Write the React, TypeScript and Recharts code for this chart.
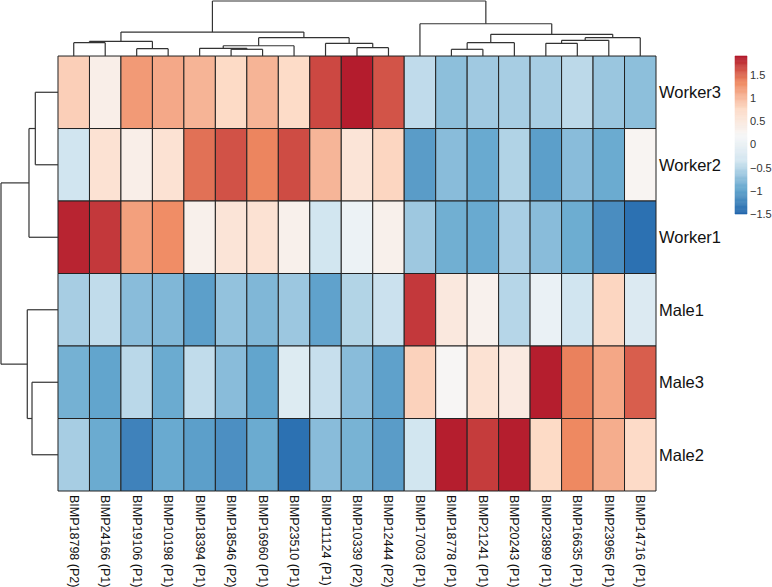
import React from "react";
import { ComposedChart, XAxis, YAxis, ReferenceArea, ReferenceLine } from "recharts";

// column order as in the clustered heatmap
const COLUMNS = [
  "BIMP18798 (P2)", "BIMP24166 (P1)", "BIMP19106 (P1)", "BIMP10198 (P1)",
  "BIMP18394 (P1)", "BIMP18546 (P2)", "BIMP16960 (P1)", "BIMP23510 (P1)",
  "BIMP11124 (P1)", "BIMP10339 (P2)", "BIMP12444 (P2)", "BIMP17003 (P1)",
  "BIMP18778 (P1)", "BIMP21241 (P1)", "BIMP20243 (P1)", "BIMP23899 (P1)",
  "BIMP16635 (P1)", "BIMP23965 (P1)", "BIMP14716 (P1)",
];
const ROWS = ["Worker3", "Worker2", "Worker1", "Male1", "Male3", "Male2"];

// row-scaled values (z-scores)
const WORKER3 = [0.85, 0.38, 1.22, 1.12, 1.04, 0.77, 1.04, 0.75, 1.66, 1.88, 1.6, -0.46, -0.73, -0.63, -0.59, -0.59, -0.48, -0.66, -0.73];
const WORKER2 = [-0.36, 0.63, 0.38, 0.63, 1.46, 1.61, 1.36, 1.64, 1.03, 0.58, 0.8, -1.04, -0.75, -0.92, -0.54, -1.02, -0.75, -0.91, 0.26];
const WORKER1 = [1.84, 1.74, 1.18, 1.31, 0.34, 0.58, 0.63, 0.34, -0.35, 0.04, 0.34, -0.64, -0.88, -0.92, -0.58, -0.75, -0.9, -1.17, -1.41];
const MALE1 = [-0.59, -0.45, -0.75, -0.8, -1.02, -0.7, -0.8, -0.65, -0.99, -0.53, -0.4, 1.74, 0.5, 0.32, -0.51, 0.01, -0.36, 0.8, -0.2];
const MALE3 = [-0.86, -0.97, -0.49, -0.91, -0.45, -0.75, -0.97, -0.19, -0.42, -0.75, -1.0, 0.83, 0.24, 0.63, 0.46, 1.87, 1.38, 1.13, 1.55];
const MALE2 = [-0.59, -0.91, -1.26, -0.92, -1.02, -1.15, -0.91, -1.41, -0.75, -0.84, -1.04, -0.35, 1.87, 1.72, 1.87, 0.77, 1.34, 1.09, 0.76];
const VALUES = [WORKER3, WORKER2, WORKER1, MALE1, MALE3, MALE2];

// hclust-style merges: negative = leaf (1-based), positive = earlier merge (1-based)
const COL_MERGE: [number, number][] = [
  [-1, -2], [-3, -4], [1, 2], [-6, -7], [-5, 4], [5, -8], [-10, -11], [-9, 7], [6, 8], [3, 9],
  [-13, -14], [11, -15], [-16, -17], [13, -18], [14, -19], [12, 15], [-12, 16], [10, 17],
];
const COL_HEIGHT = [0.242, 0.133, 0.267, 0.122, 0.14, 0.187, 0.151, 0.231, 0.333, 0.436, 0.122, 0.242, 0.231, 0.285, 0.333, 0.395, 0.587, 1.0];
const ROW_MERGE: [number, number][] = [[-1, -2], [1, -3], [-5, -6], [-4, 3], [2, 4]];
const ROW_HEIGHT = [0.398, 0.509, 0.456, 0.539, 1.0];

const LEGEND_TICKS = [-1.5, -1, -0.5, 0, 0.5, 1, 1.5];
const VMIN = -1.5;
const VMAX = 1.9;

// RdBu (7), low -> high
const PALETTE = ["#2166ac", "#67a9cf", "#d1e5f0", "#f7f7f7", "#fddbc7", "#ef8a62", "#b2182b"];

const TOP_DEPTH = 0.759; // dendrogram height in row units
const LEFT_DEPTH = 1.811; // dendrogram width in column units
const LINE = "#333";
const FONT = "'Liberation Sans', Arial, Helvetica, sans-serif";

function hexRgb(h: string) {
  return [1, 3, 5].map((i) => parseInt(h.slice(i, i + 2), 16));
}

function colorFor(v: number) {
  const t = Math.max(0, Math.min(1, (v - VMIN) / (VMAX - VMIN))) * (PALETTE.length - 1);
  const i = Math.min(PALETTE.length - 2, Math.floor(t));
  const f = t - i;
  const a = hexRgb(PALETTE[i]);
  const b = hexRgb(PALETTE[i + 1]);
  const c = a.map((x, k) => Math.round(x + (b[k] - x) * f));
  return `rgb(${c[0]},${c[1]},${c[2]})`;
}

// colour key strips
const KEY_STEP = 0.025;
const keyStrips: number[] = [];
for (let v = VMIN; v < VMAX - 1e-9; v += KEY_STEP) keyStrips.push(v);

type Seg = { a: [number, number]; b: [number, number] };

// lay out a dendrogram; pos(leafCenter, height) gives [x, y] in chart units
function dendroSegments(merge: [number, number][], heights: number[], pos: (c: number, h: number) => [number, number]) {
  const nodes: { c: number; h: number }[] = [];
  const get = (id: number) => (id < 0 ? { c: -id - 0.5, h: 0 } : nodes[id - 1]);
  const segs: Seg[] = [];
  merge.forEach(([l, r], k) => {
    const A = get(l);
    const B = get(r);
    const h = heights[k];
    segs.push({ a: pos(A.c, A.h), b: pos(A.c, h) });
    segs.push({ a: pos(B.c, B.h), b: pos(B.c, h) });
    segs.push({ a: pos(A.c, h), b: pos(B.c, h) });
    nodes.push({ c: (A.c + B.c) / 2, h });
  });
  return segs;
}

const topSegs = dendroSegments(COL_MERGE, COL_HEIGHT, (c, h) => [c, -h * TOP_DEPTH]);
const leftSegs = dendroSegments(ROW_MERGE, ROW_HEIGHT, (c, h) => [-h * LEFT_DEPTH, c]);

const ColTick = (p: any) => {
  const label = COLUMNS[Math.floor(p.payload.value)];
  return (
    <text
      transform={`translate(${p.x},${p.y}) rotate(90)`}
      textAnchor="start"
      dominantBaseline="central"
      fontSize={12.5}
      fill="#111"
      fontFamily={FONT}
    >
      {label}
    </text>
  );
};

const RowTick = (p: any) => {
  const label = ROWS[Math.floor(p.payload.value)];
  return (
    <text x={p.x} y={p.y} textAnchor="start" dominantBaseline="central" fontSize={16.5} fill="#111" fontFamily={FONT}>
      {label}
    </text>
  );
};

const LegendTick = (p: any) => (
  <text x={p.x} y={p.y} textAnchor="start" dominantBaseline="central" fontSize={11} fill="#333" fontFamily={FONT}>
    {String(p.payload.value).replace("-", "\u2212")}
  </text>
);

export default function App() {
  return (
    <div style={{ position: "relative", width: 772, height: 587, background: "#fff", fontFamily: FONT }}>
      <style>{"body{margin:0}"}</style>

      <div style={{ position: "absolute", left: 0, top: 0 }}>
        <ComposedChart width={772} height={587} margin={{ top: 1, left: 1, right: 0, bottom: 0 }}>
          <XAxis
            type="number"
            dataKey="x"
            domain={[-LEFT_DEPTH, COLUMNS.length]}
            ticks={COLUMNS.map((_, i) => i + 0.5)}
            interval={0}
            height={96}
            axisLine={false}
            tickLine={false}
            tickSize={0}
            tickMargin={4}
            tick={<ColTick />}
            allowDataOverflow
          />
          <YAxis
            type="number"
            dataKey="y"
            orientation="right"
            reversed
            domain={[-TOP_DEPTH, ROWS.length]}
            ticks={ROWS.map((_, i) => i + 0.5)}
            interval={0}
            width={116}
            axisLine={false}
            tickLine={false}
            tickSize={0}
            tickMargin={3}
            tick={<RowTick />}
            allowDataOverflow
          />
          {VALUES.map((row, r) =>
            row.map((v, c) => (
              <ReferenceArea
                key={`cell-${r}-${c}`}
                x1={c}
                x2={c + 1}
                y1={r}
                y2={r + 1}
                fill={colorFor(v)}
                fillOpacity={1}
                stroke="#222"
                strokeWidth={1}
                ifOverflow="visible"
              />
            ))
          )}
          {[...topSegs, ...leftSegs].map((s, i) => (
            <ReferenceLine
              key={`seg-${i}`}
              segment={[{ x: s.a[0], y: s.a[1] }, { x: s.b[0], y: s.b[1] }]}
              stroke={LINE}
              strokeWidth={1.2}
              ifOverflow="visible"
            />
          ))}
        </ComposedChart>
      </div>

      {/* colour key */}
      <div style={{ position: "absolute", left: 0, top: 0 }}>
        <ComposedChart width={772} height={587} margin={{ top: 56, left: 735, right: 0, bottom: 373 }}>
          <XAxis
            type="number"
            dataKey="x"
            domain={[0, 1]}
            height={0}
            tick={false}
            axisLine={false}
            tickLine={false}
            allowDataOverflow
          />
          <YAxis
            type="number"
            dataKey="y"
            orientation="right"
            domain={[VMIN, VMAX]}
            ticks={LEGEND_TICKS}
            interval={0}
            width={25}
            axisLine={false}
            tickLine={false}
            tickSize={0}
            tickMargin={3}
            tick={<LegendTick />}
            allowDataOverflow
          />
          {keyStrips.map((v, i) => (
            <ReferenceArea
              key={`key-${i}`}
              x1={0}
              x2={1}
              y1={v}
              y2={Math.min(VMAX, v + KEY_STEP)}
              fill={colorFor(v + KEY_STEP / 2)}
              fillOpacity={1}
              stroke={colorFor(v + KEY_STEP / 2)}
              strokeWidth={0.6}
              ifOverflow="visible"
            />
          ))}
        </ComposedChart>
      </div>
    </div>
  );
}
